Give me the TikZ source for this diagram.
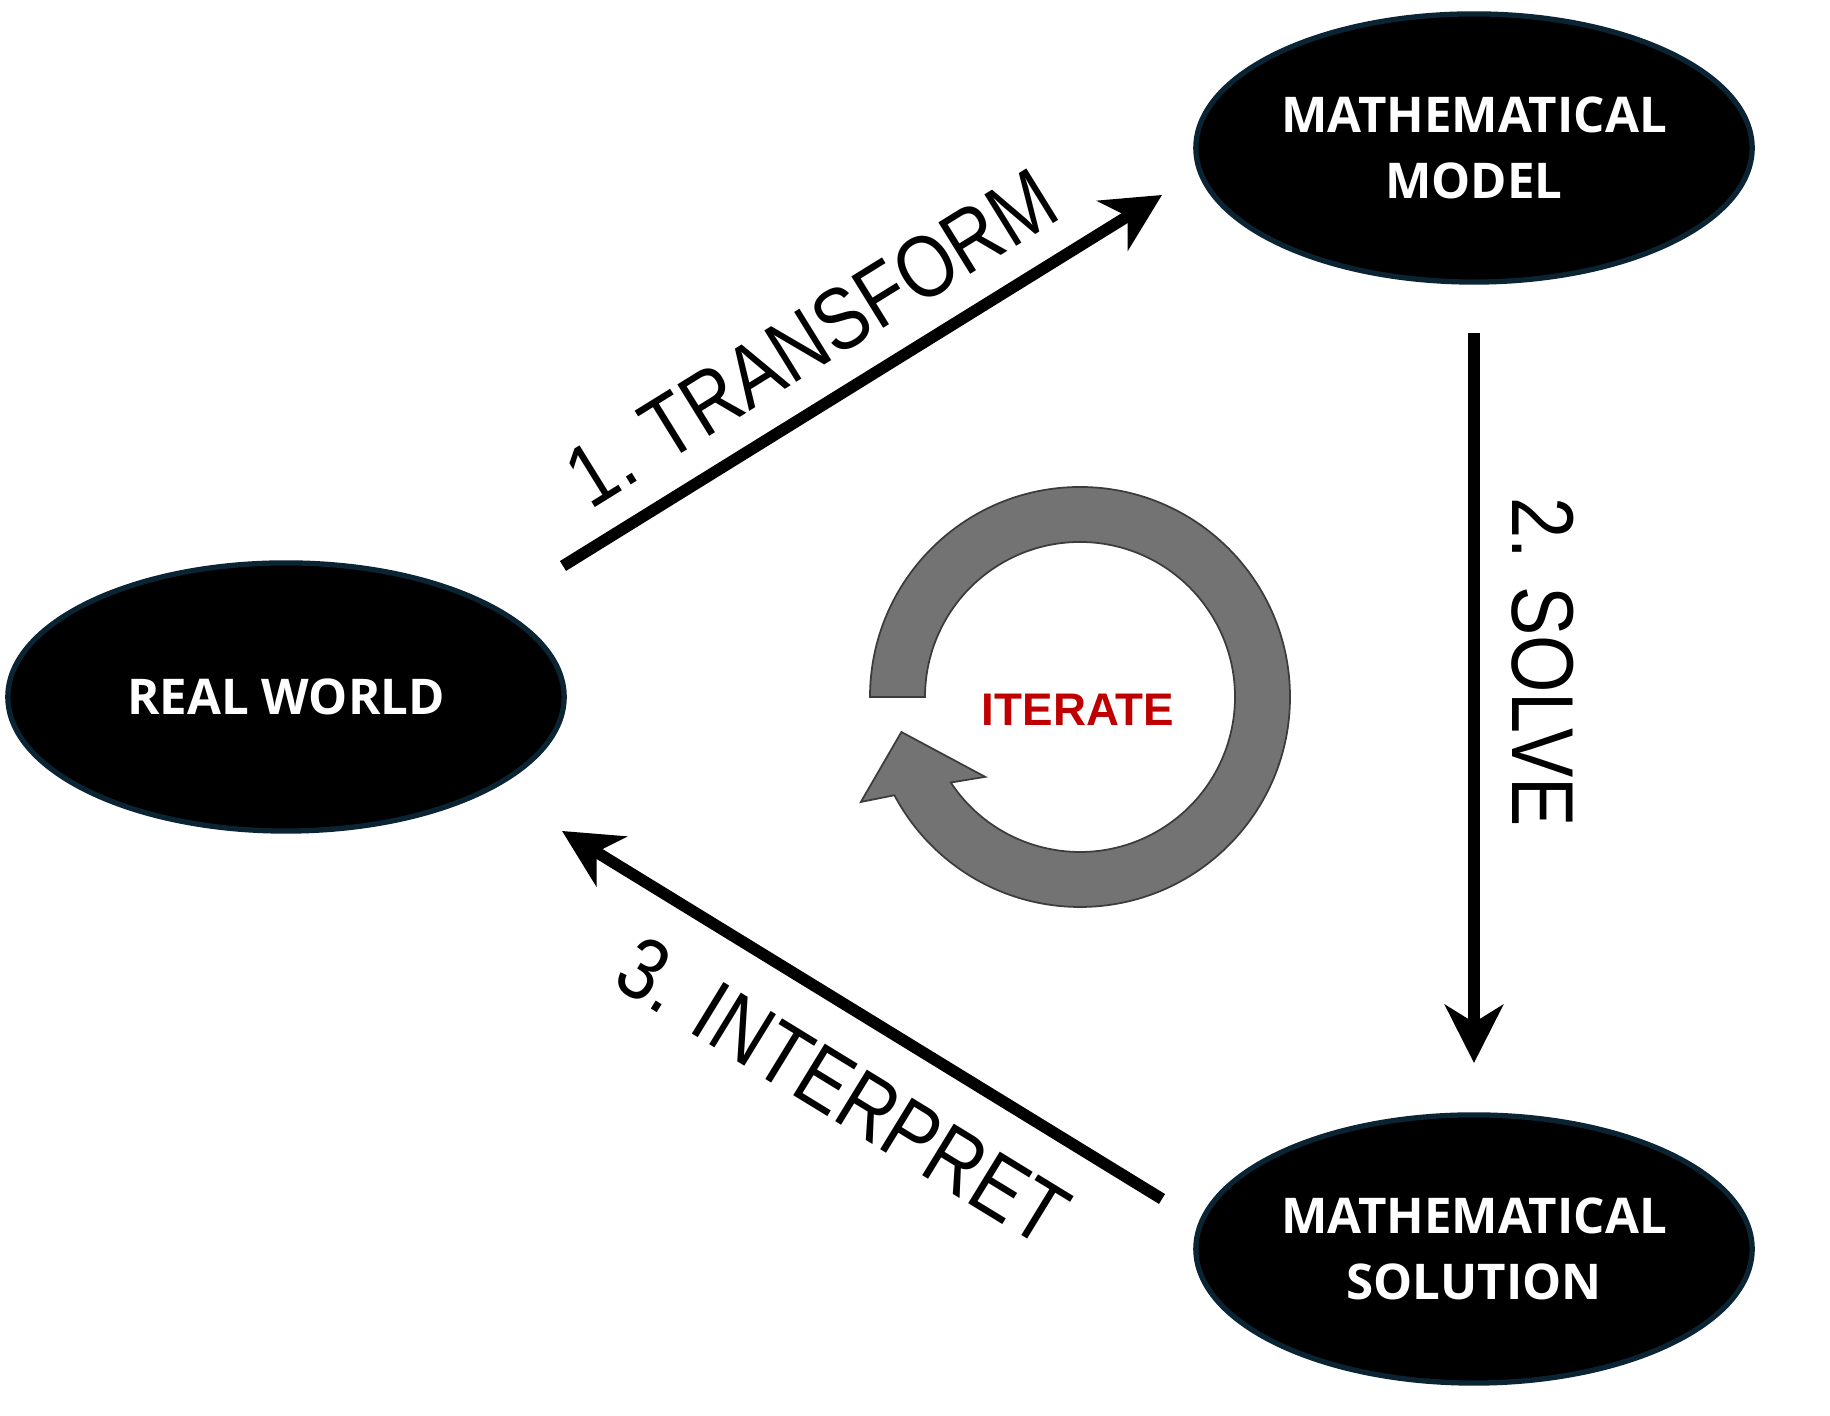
\documentclass[tikz,border=0pt]{standalone}
\usepackage{graphicx}
\usepackage{fontspec}
\setmainfont{Liberation Sans}
\newfontfamily\stagefont{Open Sans}
\usetikzlibrary{shapes.geometric,arrows.meta}
\definecolor{rimnavy}{HTML}{0B2434}
\definecolor{loopgray}{HTML}{737373}
\definecolor{loopedge}{HTML}{3C3C3C}
\definecolor{iterred}{HTML}{C00000}
% centred line of zero width, so the ellipse keeps its own size
\newcommand{\zline}[1]{\makebox[0pt][c]{#1}}

\begin{document}
\begin{tikzpicture}[x=0.01cm,y=0.01cm,
  stage/.style={ellipse, fill=black, draw=rimnavy, line width=1.5pt,
    minimum width=5.56cm, minimum height=2.68cm, inner sep=0pt,
    text=white, align=center,
    font=\stagefont\bfseries\fontsize{14}{19}\selectfont},
  flow/.style={line width=3.3pt, -{Stealth[length=16.5pt,width=16.5pt,inset=5pt]}},
  steplabel/.style={inner sep=0pt, font=\fontsize{25}{30}\selectfont},
  loopshape/.style={fill=loopgray, draw=loopedge, line width=0.5pt, line join=miter}
]
\useasboundingbox[fill=white] (0,0) rectangle (1830,1416);

% the three stages
\node[stage] (real)  at (286,719)  {\zline{REAL WORLD}};
\node[stage] (model) at (1474,1268) {\zline{MATHEMATICAL}\\\zline{MODEL}};
\node[stage] (sol)   at (1474,167)  {\zline{MATHEMATICAL}\\\zline{SOLUTION}};

% arrow end points
\coordinate (tA) at (563,850);
\coordinate (tB) at (1162,1221);
\coordinate (sA) at (1474,1083);
\coordinate (sB) at (1474,353);
\coordinate (iA) at (1162,217);
\coordinate (iB) at (562,585);

\draw[flow] (tA) -- (tB);
\draw[flow] (sA) -- (sB);
\draw[flow] (iA) -- (iB);

% step labels
\node[steplabel, rotate=31.75] (ltrans) at (811,1078) {\scalebox{0.84}[1]{1. TRANSFORM}};
\node[steplabel, rotate=-90]   (lsolve) at (1543,754) {\scalebox{0.84}[1]{2. SOLVE}};
\node[steplabel, rotate=-31.5] (linter) at (843,325)  {\scalebox{0.84}[1]{3. INTERPRET}};

% circular iterate arrow
\begin{scope}[shift={(1080,719)}]
  \draw[loopshape] (180:210) arc[start angle=180, end angle=-152.1, radius=210]
    -- (-154.4:243) -- (-168.9:182) -- (-139.9:124) -- (-146.5:155)
    arc[start angle=-146.5, end angle=180, radius=155] -- cycle;
\end{scope}
\node[font=\bfseries\fontsize{13}{15}\selectfont, text=iterred, inner sep=0pt] (iter) at (1078,706) {ITERATE};
\end{tikzpicture}
\end{document}
